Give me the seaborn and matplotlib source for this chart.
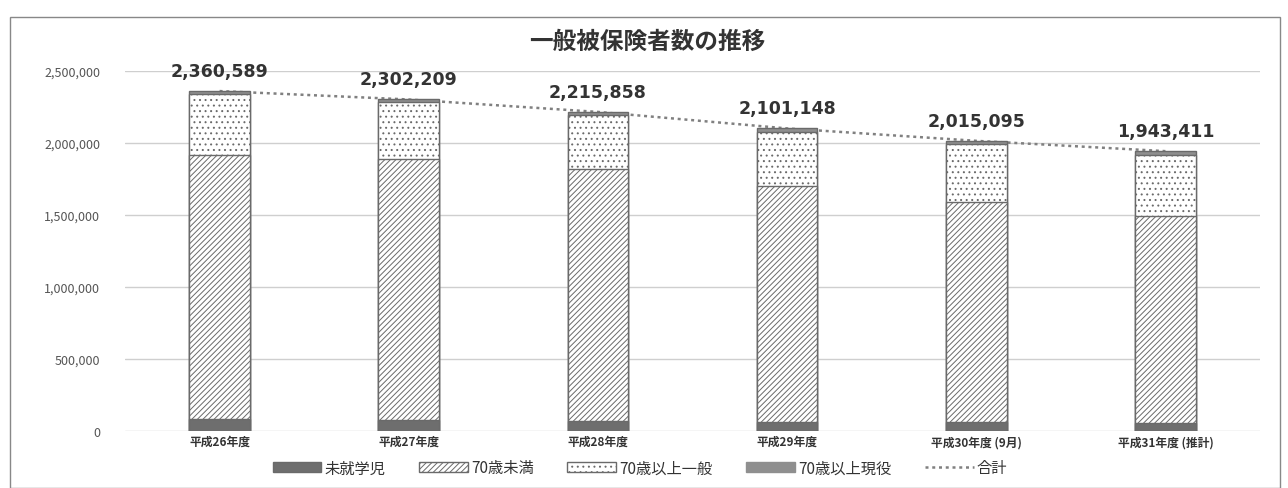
import numpy as np
import pandas as pd
import matplotlib
matplotlib.use("Agg")
import matplotlib.pyplot as plt
import seaborn as sns
from matplotlib.patches import Patch, Rectangle
from matplotlib.lines import Line2D
from matplotlib.ticker import FuncFormatter

# ---- data ----
categories = ["平成26年度", "平成27年度", "平成28年度", "平成29年度", "平成30年度 (9月)", "平成31年度 (推計)"]
preschool = [85000, 76000, 72000, 65000, 60000, 57000]           # 未就学児
under70 = [1835000, 1814000, 1750000, 1635000, 1530000, 1433000]  # 70歳未満
over70_general = [420589, 392209, 371858, 379148, 402095, 428411] # 70歳以上一般
over70_working = [20000, 20000, 22000, 22000, 23000, 25000]       # 70歳以上現役
totals = [2360589, 2302209, 2215858, 2101148, 2015095, 1943411]   # 合計
series_names = ["未就学児", "70歳未満", "70歳以上一般", "70歳以上現役", "合計"]
yticks = [0, 500000, 1000000, 1500000, 2000000, 2500000]

sns.set_theme(style="white")
plt.rcParams['font.family'] = ['Noto Sans CJK JP', 'DejaVu Sans']
plt.rcParams['hatch.color'] = '#8a8a8a'
plt.rcParams['hatch.linewidth'] = 0.7

df = pd.DataFrame({
    "cat": categories,
    "c1": np.array(preschool),
    "c2": np.array(preschool) + np.array(under70),
    "c3": np.array(preschool) + np.array(under70) + np.array(over70_general),
    "c4": np.array(preschool) + np.array(under70) + np.array(over70_general) + np.array(over70_working),
})

fig = plt.figure(figsize=(12.88, 4.89), dpi=100)
ax = fig.add_axes([125/1288, 1-432/489, (1260-125)/1288, (432-72)/489])

ax.set_axisbelow(True)
ax.yaxis.grid(True, color='#cfcfcf', linewidth=1.0)

# total line (behind bars)
sns.lineplot(x=np.arange(len(categories)), y=totals, ax=ax, color='#808080',
             linestyle=(0, (1.2, 1.5)), linewidth=1.8, zorder=1.5)

bw = 0.32
layers = [
    ("c4", dict(color='#8f8f8f', hatch=None)),
    ("c3", dict(color='white', hatch='...')),
    ("c2", dict(color='white', hatch='//////')),
    ("c1", dict(color='#6e6e6e', hatch=None)),
]
for col, st in layers:
    sns.barplot(data=df, x="cat", y=col, ax=ax, color=st['color'], width=bw,
                edgecolor='#6a6a6a', linewidth=1.0, hatch=st['hatch'],
                saturation=1, zorder=2, errorbar=None)

# data labels
for i, t in enumerate(totals):
    ax.annotate(f"{t:,}", (i, t), xytext=(0, 8), textcoords='offset points',
                ha='center', va='bottom', fontsize=12.5, fontweight='bold', color='#333333',
                family=['DejaVu Sans'])

ax.set_ylim(0, 2500000)
ax.set_xlim(-0.5, len(categories) - 0.5)
ax.set_yticks(yticks)
ax.yaxis.set_major_formatter(FuncFormatter(lambda v, p: f"{int(v):,}"))
ax.tick_params(axis='y', labelsize=9, colors='#555555', length=0, pad=18)
ax.tick_params(axis='x', labelsize=8.5, colors='#333333', length=0, pad=3)
for lab in ax.get_xticklabels():
    lab.set_fontweight('bold')
ax.set_xlabel("")
ax.set_ylabel("")
for s in ax.spines.values():
    s.set_visible(False)

fig.suptitle("一般被保険者数の推移", x=647/1288, y=1-42/489, va='center',
             fontsize=17, fontweight='bold', color='#333333')

handles = [
    Patch(facecolor='#6e6e6e', edgecolor='#6a6a6a', label=series_names[0]),
    Patch(facecolor='white', edgecolor='#6a6a6a', hatch='//////', label=series_names[1]),
    Patch(facecolor='white', edgecolor='#6a6a6a', hatch='...', label=series_names[2]),
    Patch(facecolor='#8f8f8f', edgecolor='#8f8f8f', label=series_names[3]),
    Line2D([0], [0], color='#808080', linestyle=(0, (1.2, 1.5)), linewidth=1.8, label=series_names[4]),
]
fig.legend(handles=handles, loc='center', bbox_to_anchor=(640/1288, 1-469/489), ncol=5,
           frameon=False, fontsize=11, handlelength=3.2, handleheight=0.6,
           columnspacing=2.2, handletextpad=0.2, labelcolor='#333333')

fig.patches.append(Rectangle((10/1288, 0), (1280-10)/1288, 1-18/489, transform=fig.transFigure,
                             fill=False, edgecolor='#888888', linewidth=1.0))

fig.savefig("out.png", dpi=100)
